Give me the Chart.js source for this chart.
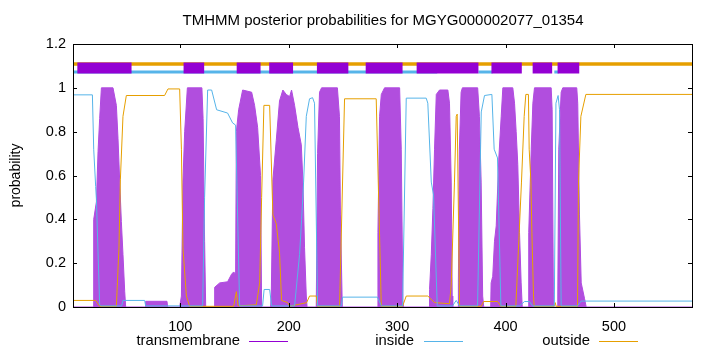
<!DOCTYPE html>
<html>
<head>
<meta charset="utf-8">
<script src="https://cdn.jsdelivr.net/npm/chart.js@4.4.1/dist/chart.umd.min.js"></script>
<style>
  html, body { margin: 0; padding: 0; background: #fff; }
  #wrap { position: relative; width: 720px; height: 352px; font-family: "Liberation Sans", Arial, sans-serif; }
  canvas { position: absolute; left: 0; top: 0; }
  .ttl { position: absolute; left: 73px; width: 620px; top: 11px; text-align: center; font-size: 15px; line-height: 18px; color: #000; white-space: nowrap; }
  .key { position: absolute; top: 332px; font-size: 14.8px; line-height: 17px; color: #000; white-space: nowrap; }
  .sw { position: absolute; top: 341px; height: 1px; }
</style>
</head>
<body>
<div id="wrap">
  <canvas id="tmhmm" width="720" height="352"></canvas>
  <div class="ttl">TMHMM posterior probabilities for MGYG000002077_01354</div>
  <div class="key" style="right:480px">transmembrane</div>
  <div class="sw" style="left:249px;width:39px;background:#9400d3"></div>
  <div class="key" style="right:306px">inside</div>
  <div class="sw" style="left:424px;width:39px;background:#56b4e9"></div>
  <div class="key" style="right:130px">outside</div>
  <div class="sw" style="left:599px;width:39px;background:#e69f00"></div>
</div>
<script>
// posterior probabilities: [residue, probability]
const tmProb = [
  [1,0],[19.6,0],[20.1,0.4],[22.6,0.48],[24.1,0.71],[25.6,0.86],[27.2,1],[37.9,1],[41,0.92],[42.5,0.77],
  [44.1,0.57],[45.6,0.39],[47.1,0.24],[48.7,0.07],[49.6,0],[67.6,0],[68,0.026],[87.7,0.026],[88.3,0],
  [99.4,0],[101,0.05],[102.4,0.57],[104,0.8],[106.5,1],[119.9,1],[121,0.86],[122.4,0.3],[123.4,0],
  [131.2,0],[131.7,0.09],[136.3,0.11],[143.6,0.115],[147.3,0.15],[149.2,0.16],[151,0.15],[151.7,0.8],
  [153.8,0.9],[157.5,0.99],[165.8,0.98],[168.5,0.92],[171.3,0.82],[174,0.6],[175,0],
  [183.3,0],[183.9,0.05],[185.4,0.58],[188.5,0.76],[191.5,0.94],[194.6,0.99],[197.7,0.97],[200.8,0.96],
  [202.6,0.99],[205.4,0.92],[208.5,0.82],[211.6,0.74],[213.1,0.57],[214.6,0.27],[216.2,0.05],[216.9,0],
  [225.4,0],[226.6,0.7],[228.4,0.98],[230.3,1],[244.9,1],[246.8,0.87],[247.7,0.42],[249.4,0],
  [281.5,0],[282.3,0.34],[283.8,0.87],[285.4,0.97],[288.4,1],[302.3,1],[303.8,0.72],[305.3,0.03],[305.9,0],
  [329.4,0],[329.9,0.08],[331.5,0.24],[333,0.45],[334.5,0.72],[336.1,0.97],[339.1,0.99],[346.8,0.99],
  [348.3,0.93],[349.9,0.57],[350.8,0.05],[351.3,0],
  [356.2,0],[356.5,0.11],[357.4,0.72],[359,0.98],[360.2,1],[374.3,1],[375.9,0.87],[377.5,0.57],[378.9,0.05],[379.9,0],
  [386.3,0],[386.7,0.11],[388.2,0.14],[389.8,0.3],[391.4,0.37],[393.8,0.68],[396,0.87],[397.5,1],[406.7,1],
  [408.3,0.93],[409.8,0.8],[411.3,0.65],[412.9,0.34],[414.4,0.11],[415.4,0],
  [421.2,0],[421.4,0.34],[423.7,0.72],[425.2,0.93],[426.7,1],[442.1,1],[443,0.9],[444.2,0],
  [447.9,0],[448.2,0.05],[449.1,0.72],[451.3,0.98],[452.8,1],[465.7,1],[466.6,0.93],[468.2,0.42],
  [469.8,0.11],[472.8,0.04],[474.4,0],[572,0]
];
const insideProb = [
  [1,0.968],[18.9,0.968],[20.1,0.72],[21.9,0.55],[22.6,0.49],[25.6,0.01],[26.5,0.005],[45.9,0.005],
  [47.1,0.03],[67.1,0.03],[68,0.005],[120.6,0.005],[122.4,0.5],[125.2,0.99],[128.9,0.99],[133.5,0.9],
  [143.6,0.885],[148.2,0.84],[151,0.83],[154.7,0.005],[175.9,0.005],[177.3,0.08],[182.4,0.08],[184.2,0.005],
  [205.4,0.005],[210,0.24],[211.9,0.4],[213.7,0.57],[216.2,0.87],[219.2,0.95],[222,0.955],[223.8,0.93],
  [226.6,0.005],[248.5,0.005],[249.7,0.045],[281.9,0.045],[285.4,0.005],[305,0.005],[308.4,0.953],
  [326.8,0.953],[328.3,0.93],[331.5,0.57],[333.6,0.51],[337,0.005],[351.1,0.005],[354.5,0.03],[357.6,0.005],
  [374.2,0.005],[377.6,0.89],[380.6,0.965],[387.4,0.97],[389.5,0.72],[392.6,0.68],[395.7,0.005],
  [412.9,0.005],[417.5,0.025],[422.1,0.025],[424.9,0.005],[445,0.005],[446.5,0.93],[448.5,0.965],
  [449.8,0.9],[451.3,0.005],[466.3,0.005],[469.8,0.027],[572,0.027]
];
const outsideProb = [
  [1,0.03],[21.9,0.03],[25.6,0.003],[41,0.003],[43.4,0.27],[44.7,0.58],[47.1,0.87],[50.2,0.965],
  [85.5,0.965],[88.6,0.995],[99.4,0.995],[101,0.72],[102.4,0.27],[105.6,0.05],[108.6,0.003],
  [149.2,0.003],[151.7,0.07],[153.3,0.005],[170.1,0.01],[173.2,0.11],[175,0.5],[177.1,0.92],[182.4,0.92],
  [185.4,0.42],[188.5,0.38],[191.5,0.25],[193.4,0.03],[198.9,0.02],[200.8,0.003],[216.5,0.02],[219.2,0.05],
  [225.4,0.05],[226.6,0.003],[246.9,0.003],[251.5,0.95],[280.7,0.95],[285.4,0.003],[305,0.003],[308.4,0.05],
  [328.3,0.05],[334.5,0.02],[348.3,0.015],[349.9,0.1],[352.9,0.57],[354.5,0.87],[355.4,0.88],[357.6,0.003],
  [377.6,0.003],[379.7,0.025],[392.6,0.025],[395.7,0.003],[409.5,0.003],[412.6,0.34],[414.7,0.57],
  [417.2,0.87],[418.7,0.97],[421.1,0.97],[421.8,0.72],[423.4,0.57],[424.3,0.34],[425.8,0.05],[426.4,0.003],
  [444.9,0.003],[445.8,0.02],[446.7,0.003],[466.4,0.003],[467.3,0.57],[469.5,0.87],[474.1,0.97],[572,0.97]
];
// predicted topology bars along the top: [from, to]
const tmSegments = [[5,55],[103,122],[152,174],[182,204],[226,255],[271,305],[318,375],[387,415],[425,443],[448,468]];
const insideSegments = [[1,337],[375,388],[445,449]];
const outsideSegments = [[1,572]];

const xTicks = [100, 200, 300, 400, 500];
const yTicks = [0, 0.2, 0.4, 0.6, 0.8, 1, 1.2];

const FONT = '"Liberation Sans", Arial, sans-serif';
const toPts = arr => arr.map(([x, y]) => ({x: x, y: y}));
const toBar = (segs, lvl) => segs.flatMap(([a, b]) => [{x: a, y: lvl}, {x: b, y: lvl}, {x: b, y: null}]);

// gnuplot style frame with short inward ticks
const frame = {
  id: 'frame',
  afterDraw(chart) {
    const {ctx, chartArea: a, scales: {x, y}} = chart;
    ctx.save();
    ctx.strokeStyle = '#000';
    ctx.lineWidth = 1;
    ctx.strokeRect(a.left + 0.5, a.top + 0.5, a.right - a.left, a.bottom - a.top);
    ctx.beginPath();
    yTicks.forEach(v => {
      const py = Math.round(y.getPixelForValue(v)) + 0.5;
      ctx.moveTo(a.left, py); ctx.lineTo(a.left + 4, py);
      ctx.moveTo(a.right, py); ctx.lineTo(a.right - 4, py);
    });
    xTicks.forEach(v => {
      const px = Math.round(x.getPixelForValue(v)) + 0.5;
      ctx.moveTo(px, a.bottom); ctx.lineTo(px, a.bottom - 4);
      ctx.moveTo(px, a.top); ctx.lineTo(px, a.top + 4);
    });
    ctx.stroke();
    ctx.restore();
  }
};

new Chart(document.getElementById('tmhmm'), {
  type: 'line',
  data: {
    datasets: [
      {label: 'tm-bar', data: toBar(tmSegments, 1.09), borderColor: '#9400d3', borderWidth: 11, borderCapStyle: 'butt', spanGaps: false, order: 0},
      {label: 'in-bar', data: toBar(insideSegments, 1.072), borderColor: '#56b4e9', borderWidth: 3, spanGaps: false, order: 1},
      {label: 'out-bar', data: toBar(outsideSegments, 1.109), borderColor: '#e69f00', borderWidth: 3.5, spanGaps: false, order: 2},
      {label: 'inside', data: toPts(insideProb), borderColor: '#56b4e9', borderWidth: 1, order: 3},
      {label: 'outside', data: toPts(outsideProb), borderColor: '#e69f00', borderWidth: 1, order: 4},
      {label: 'transmembrane', data: toPts(tmProb), borderColor: '#b04ae0', backgroundColor: 'rgba(158, 34, 214, 0.8)', borderWidth: 1, fill: 'origin', order: 5}
    ]
  },
  options: {
    responsive: false,
    animation: false,
    elements: {point: {radius: 0}, line: {tension: 0}},
    layout: {padding: {left: 0, right: 28, top: 44, bottom: 0}},
    plugins: {
      legend: {display: false},
      tooltip: {enabled: false},
      title: {display: false}
    },
    scales: {
      x: {
        type: 'linear', min: 1, max: 572,
        grid: {display: false, drawTicks: false},
        border: {display: false},
        afterBuildTicks: s => { s.ticks = xTicks.map(v => ({value: v})); },
        afterFit: s => { s.height = 45; },
        ticks: {color: '#000', padding: 11, maxRotation: 0, autoSkip: false,
                font: {family: FONT, size: 14.5}}
      },
      y: {
        min: 0, max: 1.2,
        grid: {display: false, drawTicks: false},
        border: {display: false},
        afterBuildTicks: s => { s.ticks = yTicks.map(v => ({value: v})); },
        afterFit: s => { s.width = 73; },
        ticks: {color: '#000', padding: 7, callback: v => String(Math.round(v * 10) / 10),
                font: {family: FONT, size: 14.5}},
        title: {display: true, text: 'probability', color: '#000', padding: {top: 8, bottom: 0},
                font: {family: FONT, size: 14}}
      }
    }
  },
  plugins: [frame]
});
</script>
</body>
</html>
